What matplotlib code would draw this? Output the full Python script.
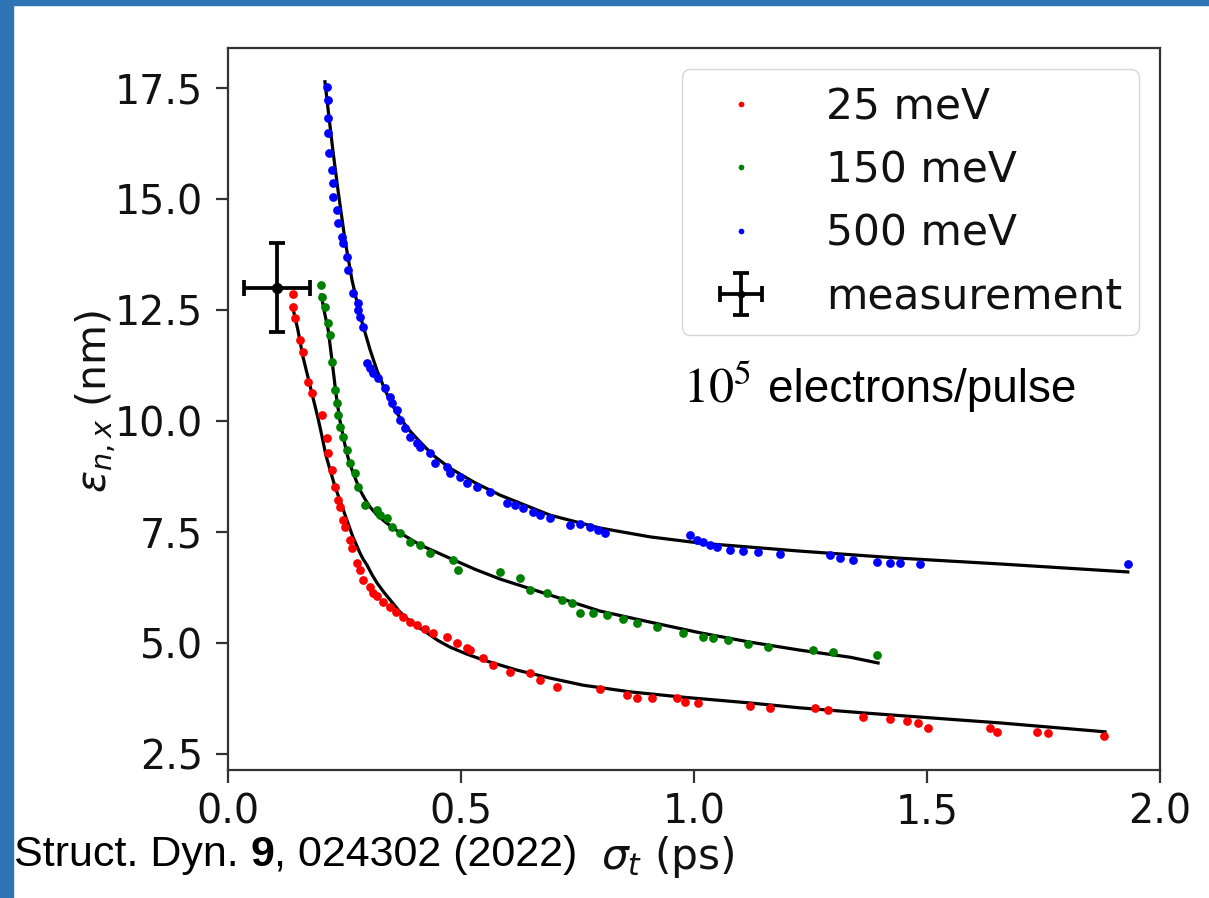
import matplotlib
matplotlib.use("Agg")
import matplotlib.pyplot as plt
from matplotlib.patches import Rectangle

# ---------------- data ----------------
red_x = [0.139, 0.139, 0.144, 0.155, 0.161, 0.172, 0.180, 0.202, 0.212, 0.215, 0.223, 0.230,
         0.236, 0.240, 0.247, 0.251, 0.262, 0.266, 0.277, 0.283, 0.290, 0.305, 0.311, 0.320,
         0.333, 0.348, 0.361, 0.376, 0.391, 0.406, 0.423, 0.440, 0.470, 0.491, 0.513, 0.519,
         0.547, 0.569, 0.605, 0.648, 0.670, 0.706, 0.798, 0.856, 0.878, 0.910, 0.964, 0.981,
         1.009, 1.120, 1.163, 1.260, 1.288, 1.363, 1.421, 1.457, 1.481, 1.502, 1.635, 1.650,
         1.736, 1.760, 1.880]
red_y = [12.86, 12.57, 12.32, 11.82, 11.55, 10.88, 10.63, 10.14, 9.62, 9.28, 8.90, 8.51,
         8.22, 8.06, 7.77, 7.61, 7.32, 7.14, 6.80, 6.64, 6.42, 6.26, 6.13, 6.06,
         5.92, 5.81, 5.70, 5.59, 5.47, 5.41, 5.32, 5.23, 5.14, 5.00, 4.89, 4.84,
         4.66, 4.50, 4.35, 4.32, 4.17, 4.01, 3.96, 3.83, 3.76, 3.76, 3.76, 3.67,
         3.65, 3.58, 3.54, 3.54, 3.49, 3.33, 3.29, 3.24, 3.20, 3.09, 3.09, 3.00,
         3.00, 2.97, 2.91]
red_fit_x = [0.139, 0.150, 0.161, 0.172, 0.182, 0.193, 0.202, 0.210, 0.219, 0.230, 0.240, 0.255,
             0.268, 0.276, 0.283, 0.290, 0.298, 0.309, 0.320, 0.334, 0.348, 0.369, 0.385, 0.401,
             0.427, 0.450, 0.476, 0.510, 0.547, 0.620, 0.691, 0.762, 0.863, 0.976, 1.120, 1.227,
             1.371, 1.513, 1.657, 1.882]
red_fit_y = [12.55, 12.05, 11.44, 10.97, 10.54, 10.07, 9.64, 9.23, 8.90, 8.51, 8.22, 7.77,
             7.39, 7.20, 7.03, 6.89, 6.76, 6.54, 6.35, 6.15, 5.97, 5.70, 5.54, 5.41,
             5.23, 5.06, 4.91, 4.76, 4.62, 4.39, 4.21, 4.05, 3.90, 3.78, 3.65, 3.54,
             3.42, 3.31, 3.20, 3.00]

green_x = [0.200, 0.202, 0.208, 0.215, 0.219, 0.223, 0.230, 0.234, 0.236, 0.240, 0.247, 0.255,
           0.262, 0.273, 0.279, 0.294, 0.320, 0.326, 0.341, 0.352, 0.369, 0.391, 0.412, 0.433,
           0.483, 0.494, 0.584, 0.627, 0.648, 0.685, 0.717, 0.738, 0.755, 0.783, 0.813, 0.848,
           0.878, 0.921, 0.976, 1.019, 1.041, 1.073, 1.116, 1.159, 1.255, 1.298, 1.393]
green_y = [13.06, 12.79, 12.57, 12.21, 11.94, 11.33, 10.70, 10.41, 10.14, 9.86, 9.64, 9.35,
           9.05, 8.83, 8.51, 8.11, 7.99, 7.88, 7.82, 7.61, 7.48, 7.27, 7.21, 7.03,
           6.87, 6.64, 6.60, 6.46, 6.19, 6.13, 5.97, 5.90, 5.68, 5.68, 5.63, 5.54,
           5.45, 5.36, 5.23, 5.14, 5.11, 5.07, 4.98, 4.91, 4.84, 4.80, 4.73]
green_fit_x = [0.200, 0.206, 0.215, 0.223, 0.232, 0.240, 0.251, 0.258, 0.266, 0.275, 0.283, 0.294,
               0.305, 0.320, 0.337, 0.369, 0.412, 0.476, 0.530, 0.584, 0.691, 0.798, 0.906,
               1.013, 1.120, 1.227, 1.335, 1.395]
green_fit_y = [12.84, 12.50, 12.05, 11.38, 10.59, 10.02, 9.46, 9.16, 8.90, 8.66, 8.45, 8.24,
               8.06, 7.88, 7.73, 7.48, 7.21, 6.91, 6.66, 6.44, 6.08, 5.72, 5.47,
               5.23, 5.02, 4.84, 4.68, 4.55]

blue_x = [0.212, 0.215, 0.215, 0.215, 0.217, 0.223, 0.225, 0.225, 0.234, 0.236, 0.245, 0.247,
          0.255, 0.258, 0.268, 0.279, 0.279, 0.283, 0.290, 0.298, 0.305, 0.311, 0.322, 0.337,
          0.348, 0.352, 0.363, 0.369, 0.380, 0.391, 0.406, 0.412, 0.433, 0.444, 0.470, 0.476,
          0.498, 0.513, 0.534, 0.562, 0.599, 0.616, 0.633, 0.655, 0.670, 0.691, 0.734, 0.755,
          0.777, 0.794, 0.809, 0.991, 1.006, 1.019, 1.034, 1.049, 1.077, 1.105, 1.137, 1.185,
          1.292, 1.313, 1.341, 1.393, 1.421, 1.442, 1.485, 1.931]
blue_y = [17.52, 17.23, 16.82, 16.49, 16.04, 15.65, 15.36, 15.05, 14.75, 14.46, 14.14, 14.01,
          13.69, 13.40, 12.88, 12.66, 12.50, 12.34, 12.12, 11.31, 11.19, 11.08, 10.97, 10.74,
          10.54, 10.41, 10.25, 10.02, 9.84, 9.64, 9.50, 9.41, 9.28, 9.05, 8.96, 8.83,
          8.74, 8.60, 8.51, 8.40, 8.15, 8.11, 8.04, 7.95, 7.88, 7.82, 7.66, 7.68,
          7.61, 7.55, 7.48, 7.43, 7.32, 7.27, 7.21, 7.16, 7.09, 7.07, 7.05, 7.00,
          6.98, 6.91, 6.87, 6.82, 6.80, 6.80, 6.78, 6.78]
blue_fit_x = [0.208, 0.215, 0.225, 0.236, 0.251, 0.266, 0.283, 0.305, 0.320, 0.337, 0.352, 0.369,
              0.390, 0.412, 0.440, 0.476, 0.530, 0.584, 0.691, 0.798, 0.906, 1.013, 1.227,
              1.442, 1.657, 1.931]
blue_fit_y = [17.64, 17.00, 16.10, 15.20, 14.08, 13.18, 12.39, 11.60, 11.13, 10.70, 10.37, 10.07,
              9.78, 9.53, 9.23, 8.94, 8.61, 8.33, 7.88, 7.59, 7.39, 7.25, 7.07,
              6.91, 6.78, 6.60]

meas_x = [0.105]
meas_y = [13.0]
meas_xerr = [0.07]
meas_yerr = [1.0]

labels = ["25 meV", "150 meV", "500 meV", "measurement"]
xticks = [0.0, 0.5, 1.0, 1.5, 2.0]
yticks = [2.5, 5.0, 7.5, 10.0, 12.5, 15.0, 17.5]

# ---------------- figure ----------------
W, H = 1209, 898
plt.rcParams["mathtext.fontset"] = "dejavusans"
fig = plt.figure(figsize=(W / 100, H / 100), dpi=100)
fig.patch.set_facecolor("white")

# slide border (blue strips)
border = "#2e74b5"
fig.patches.append(Rectangle((0, 0), 13 / W, 1, transform=fig.transFigure, color=border, zorder=0))
fig.patches.append(Rectangle((0, 1 - 5 / H), 1, 5 / H, transform=fig.transFigure, color=border, zorder=0))

ax = fig.add_axes([228 / W, 1 - 770 / H, (1160 - 228) / W, (770 - 48) / H])

ms = 6.3
ax.plot(red_x, red_y, "o", color="red", ms=ms, mew=0, label=labels[0], zorder=3)
ax.plot(green_x, green_y, "o", color="green", ms=ms, mew=0, label=labels[1], zorder=3)
ax.plot(blue_x, blue_y, "o", color="blue", ms=ms, mew=0, label=labels[2], zorder=3)
ax.plot(red_fit_x, red_fit_y, "-", color="black", lw=2.3, zorder=2)
ax.plot(green_fit_x, green_fit_y, "-", color="black", lw=2.3, zorder=2)
ax.plot(blue_fit_x, blue_fit_y, "-", color="black", lw=2.3, zorder=2)
ax.errorbar(meas_x, meas_y, xerr=meas_xerr, yerr=meas_yerr, fmt="o", color="black",
            ms=7, elinewidth=2.7, capsize=5.5, capthick=2.7, label=labels[3], zorder=4)

ax.set_xlim(0.0, 2.0)
ax.set_ylim(2.14, 18.4)
ax.set_xticks(xticks)
ax.set_yticks(yticks)
ax.set_xticklabels([f"{t:.1f}" for t in xticks])
ax.set_yticklabels([f"{t:.1f}" for t in yticks])
ax.tick_params(axis="both", labelsize=28.5, length=9, width=1.6, color="#333333", labelcolor="#111111")
ax.tick_params(axis="y", pad=9)
ax.tick_params(axis="x", pad=7)
for s in ax.spines.values():
    s.set_linewidth(1.6)
    s.set_color("#333333")

ax.set_xlabel(r"$\sigma_t$ (ps)", fontsize=30.5, color="#111111")
ax.set_ylabel(r"$\varepsilon_{n,x}$ (nm)", fontsize=29.5, color="#111111")
ax.xaxis.set_label_coords(0.472, -0.088)
ax.yaxis.set_label_coords(-0.118, 0.51)

leg = ax.legend(loc="upper right", fontsize=30.5, markerscale=0.65, borderaxespad=0.5,
                handletextpad=1.0, handlelength=2.0)
for t in leg.get_texts():
    t.set_color("#111111")

# annotation text
fig.text(683 / W, 1 - 402 / H, r"$\mathrm{10}^{5}$", fontsize=36, ha="left", va="baseline",
         math_fontfamily="stix")
fig.text(768 / W, 1 - 402 / H, "electrons/pulse", fontsize=33, ha="left", va="baseline",
         family="Liberation Sans")

# citation, "9" in bold
cfam, csize = "Liberation Sans", 31
yb = 1 - 866 / H
t1 = fig.text(14 / W, yb, "Struct. Dyn. ", fontsize=csize, family=cfam, ha="left", va="baseline")
fig.canvas.draw()
r = fig.canvas.get_renderer()
bb = t1.get_window_extent(r)
t2 = fig.text(bb.x1 / W, yb, "9", fontsize=csize, family=cfam, weight="bold", ha="left", va="baseline")
bb2 = t2.get_window_extent(r)
fig.text(bb2.x1 / W, yb, ", 024302 (2022)", fontsize=csize, family=cfam, ha="left", va="baseline")

fig.savefig("out.png", dpi=100)
